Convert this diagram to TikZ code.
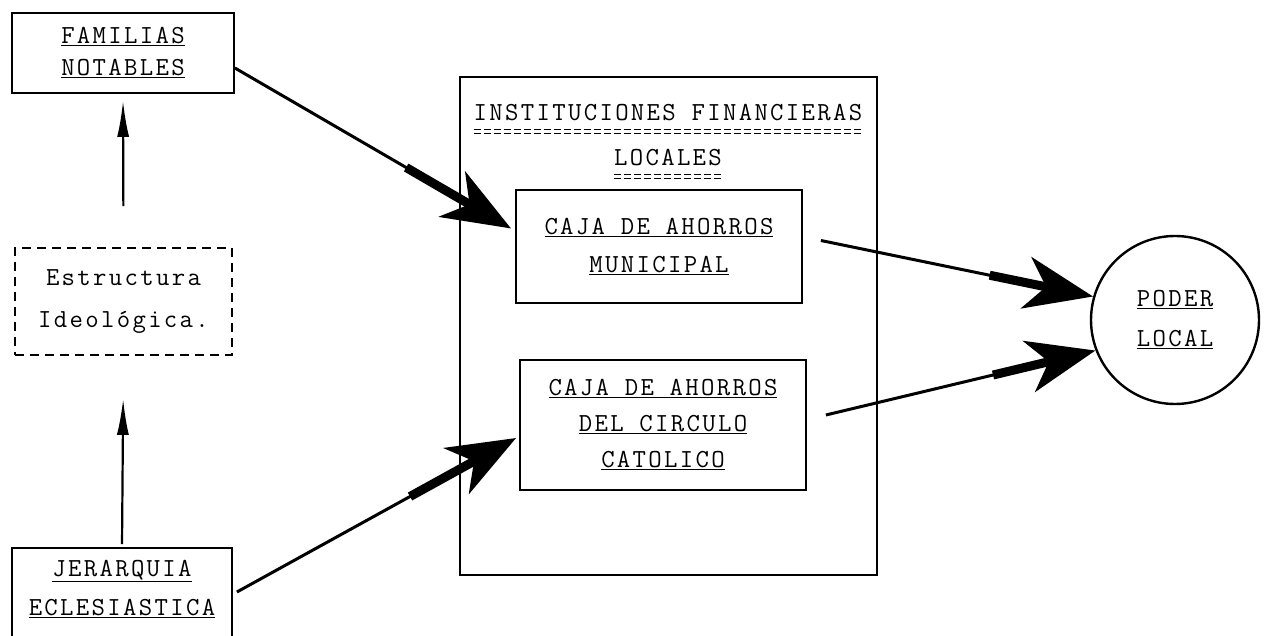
\documentclass[tikz,border=0pt]{standalone}
\usepackage{fontspec}
\setmonofont{Latin Modern Mono}[LetterSpace=9]
\usepackage{tikz}
\usetikzlibrary{arrows.meta, calc, positioning}

\tikzset{
	every node/.style={font=\ttfamily\fontsize{26}{32}\selectfont},
	box/.style={draw, line width=1.8pt, align=center, inner sep=0pt},
	thin arrow/.style={line width=2.2pt, -{Latex[length=36pt,width=12pt]}},
	shaft/.style={line width=3pt},
	heavy/.style={line width=9pt, -{Stealth[length=68pt,width=52pt,inset=20pt]}},
	dbl/.style={line width=0.9pt, dash pattern=on 7pt off 3pt}
}

\newcommand{\heavyarrow}[2]{
	\draw[shaft] (#1) -- ($(#1)!0.63!(#2)$);
	\draw[heavy] ($(#1)!0.62!(#2)$) -- (#2);
}

\begin{document}
\begin{tikzpicture}[x=1pt,y=-1pt]
				\clip (0,0) rectangle (1267,636);
				\node[box, minimum width=222pt, minimum height=80pt] (fam) at (123,53) {\underline{FAMILIAS}\\\underline{NOTABLES}};
				\node[box, dashed, dash pattern=on 9pt off 6pt, minimum width=217pt, minimum height=107pt] (ideo) at (123.5,301.5) {Estructura\\[10pt]Ideológica.};
				\node[box, minimum width=220pt, minimum height=128pt] (jer) at (122,612) {\underline{JERARQUIA}\\[7pt]\underline{ECLESIASTICA}\\[7pt]\strut};
				\node[draw, line width=2.4pt, minimum width=417pt, minimum height=498pt] (inst) at (668.5,326) {};
				\node[inner sep=0pt] (title) at (668,113) {INSTITUCIONES FINANCIERAS};
				\node[inner sep=0pt] (loc) at (668,158) {LOCALES};
				\draw[dbl] ([yshift=-8pt]title.south west) -- ([yshift=-8pt]title.south east);
				\draw[dbl] ([yshift=-12pt]title.south west) -- ([yshift=-12pt]title.south east);
				\draw[dbl] ([yshift=-8pt]loc.south west) -- ([yshift=-8pt]loc.south east);
				\draw[dbl] ([yshift=-12pt]loc.south west) -- ([yshift=-12pt]loc.south east);
				\node[box, minimum width=286pt, minimum height=113pt] (muni) at (659,246.5) {\underline{CAJA DE AHORROS}\\[6pt]\underline{MUNICIPAL}};
				\node[box, minimum width=286pt, minimum height=130pt] (circ) at (663,425) {\underline{CAJA DE AHORROS}\\[4pt]\underline{DEL CIRCULO}\\[4pt]\underline{CATOLICO}};
				\node[draw, circle, line width=2.4pt, minimum size=168pt, align=center] (poder) at (1175,320) {\underline{PODER}\\[8pt]\underline{LOCAL}};
				\draw[thin arrow, shorten <=41pt, shorten >=7pt] (ideo.north) -- (fam.south);
				\draw[thin arrow, shorten <=3pt, shorten >=43pt] (jer.north) -- (ideo.south);
				\coordinate (fam out) at ([yshift=-15pt]fam.east);
				\coordinate (muni in) at ([xshift=-4pt,yshift=18pt]muni.west);
				\coordinate (jer out) at ([xshift=4pt,yshift=20pt]jer.east);
				\coordinate (circ in) at ([xshift=-3pt,yshift=-13pt]circ.west);
				\coordinate (muni out) at ([xshift=18pt,yshift=6pt]muni.east);
				\coordinate (circ out) at ([xshift=19pt,yshift=10pt]circ.east);
				\heavyarrow{fam out}{muni in}
				\heavyarrow{jer out}{circ in}
				\heavyarrow{muni out}{poder.164}
				\heavyarrow{circ out}{poder.201}
\end{tikzpicture}
\end{document}
